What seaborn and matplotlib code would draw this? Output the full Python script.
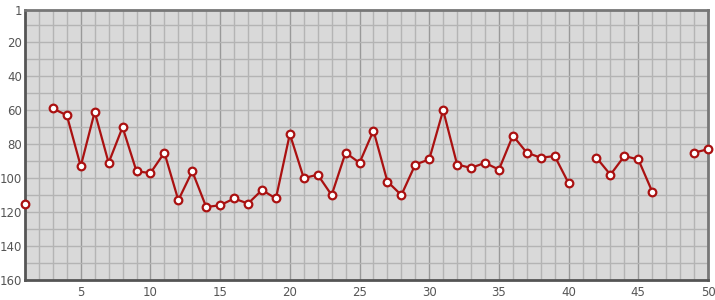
import numpy as np
import pandas as pd
import matplotlib
matplotlib.use("Agg")
import matplotlib.pyplot as plt
import seaborn as sns

x_values = list(range(1, 51))
ranks = [115, np.nan, 59, 63, 93, 61, 91, 70, 96, 97,
         85, 113, 96, 117, 116, 112, 115, 107, 112, 74,
         100, 98, 110, 85, 91, 72, 102, 110, 92, 89,
         60, 92, 94, 91, 95, 75, 85, 88, 87, 103,
         np.nan, 88, 98, 87, 89, 108, np.nan, np.nan, 85, 83]
y_ticks = [1, 20, 40, 60, 80, 100, 120, 140, 160]
x_ticks = [5, 10, 15, 20, 25, 30, 35, 40, 45, 50]

df = pd.DataFrame({"x": x_values, "rank": ranks})
# split into contiguous segments so gaps stay gaps
df["segment"] = df["rank"].isna().cumsum()
df = df.dropna()

sns.set_theme(style="white")
plt.rcParams['font.family'] = ['DejaVu Sans']

fig = plt.figure(figsize=(7.15, 3.0), dpi=100)
ax = fig.add_axes([25/715, 1-280/300, 683/715, 270/300])
ax.set_facecolor("#d9d9d9")

# grid lines
for xv in range(1, 51):
    major = xv % 5 == 0
    ax.axvline(xv, color="#999999" if major else "#b4b4b4", lw=1.0, zorder=0)
for yv in range(10, 160, 10):
    ax.axhline(yv, color="#b4b4b4", lw=1.0, zorder=0)

sns.lineplot(data=df, x="x", y="rank", units="segment", estimator=None,
             ax=ax, color="#aa1111", lw=1.6,
             marker="o", markersize=5.5, markerfacecolor="white",
             markeredgecolor="#aa1111", markeredgewidth=1.6, clip_on=False,
             zorder=3)

ax.set_xlim(1, 50)
ax.set_ylim(160, 1)
ax.set_xticks(x_ticks)
ax.set_yticks(y_ticks)
ax.tick_params(axis="both", length=0, labelsize=8.5, colors="#555555", pad=2)
ax.tick_params(axis="x", pad=4)
ax.set_xlabel("")
ax.set_ylabel("")

for side in ["left", "bottom"]:
    ax.spines[side].set_color("#555555")
    ax.spines[side].set_linewidth(2)
for side in ["top", "right"]:
    ax.spines[side].set_color("#777777")
    ax.spines[side].set_linewidth(2)

fig.savefig("out.png", dpi=100)
